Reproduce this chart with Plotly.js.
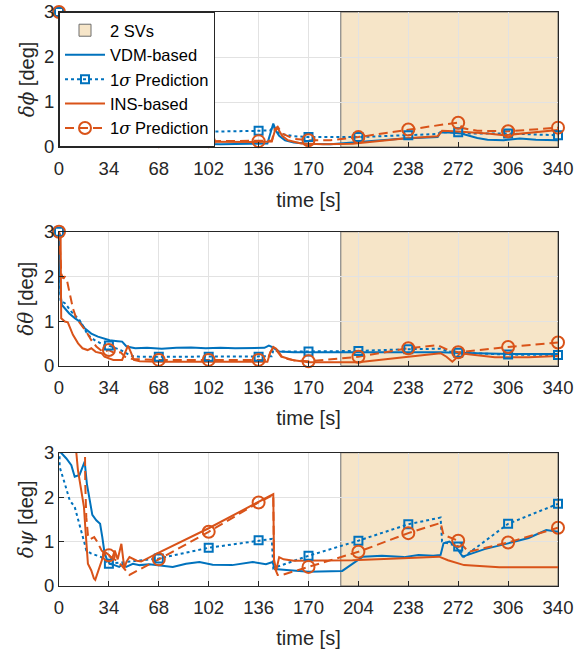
<!DOCTYPE html>
<html><head><meta charset="utf-8">
<script src="https://cdn.plot.ly/plotly-3.0.1.min.js"></script>
<style>html,body{margin:0;padding:0;background:#fff}#chart{width:588px;height:649px}</style>
</head><body><div id="chart"></div>
<script>
// ---------- data ----------
const timeTicks = [0,34,68,102,136,170,204,238,272,306,340];
const markerStep = 34;
const svStart = 192, svEnd = 340;   // 2-SV interval [s]
const yMax = 3;

// Panel 1: roll error
const rollVdmT = [0,0.5,1,3,5,7.5,10,12.5,15,18,20,23,25,28,30,33,36,40,45,55,70,90,110,130,142,144,146,148,150,154,160,170,185,200,215,235,258,260,266,274,285,292,303,314,325,340];
const rollVdm  = [3,0.3,0.25,0.1,0.26,0.08,0.27,0.1,0.27,0.08,0.25,0.1,0.25,0.1,0.22,0.12,0.18,0.1,0.08,0.07,0.06,0.07,0.06,0.07,0.08,0.3,0.52,0.35,0.25,0.15,0.1,0.07,0.06,0.1,0.14,0.19,0.22,0.33,0.32,0.3,0.2,0.16,0.15,0.19,0.16,0.15];
const rollVdmPredT = [0,1,10,20,34,68,102,136,144,146,150,160,170,204,238,258,260,272,280,306,340];
const rollVdmPred  = [3,0.45,0.4,0.37,0.35,0.34,0.34,0.36,0.37,0.45,0.3,0.24,0.22,0.22,0.26,0.29,0.33,0.33,0.3,0.3,0.26];
const rollInsT = [0,0.5,5,10,15,20,25,27,29,31,33,35,38,41,44,47,50,55,68,102,136,145,147,149,152,156,165,180,200,215,235,258,261,269,280,292,303,315,340];
const rollIns  = [3,0.4,0.35,0.3,0.28,0.25,0.2,0.1,0.25,0.1,0.22,0.08,0.25,0.1,0.22,0.1,0.18,0.12,0.12,0.11,0.11,0.12,0.35,0.42,0.25,0.15,0.08,0.06,0.07,0.12,0.19,0.24,0.36,0.35,0.33,0.3,0.26,0.3,0.38];
const rollInsPredT = [0,1,20,34,40,50,68,102,136,145,147,149,152,160,170,185,204,238,262,272,275,285,306,320,340];
const rollInsPred  = [3,0.5,0.3,0.22,0.2,0.15,0.13,0.13,0.13,0.14,0.4,0.45,0.3,0.18,0.15,0.15,0.22,0.39,0.5,0.54,0.42,0.36,0.35,0.38,0.43];

// Panel 2: pitch error
const pitchVdmT = [0,1,2,4,7,11,14,17.5,22,26.5,31,34.5,40,43,46,52,60,70,80,90,100,110,120,130,140,143,145,150,160,180,200,220,240,260,270,290,310,340];
const pitchVdm  = [3,1.6,1.36,1.28,1.17,1.06,0.99,0.84,0.72,0.65,0.61,0.57,0.55,0.54,0.43,0.39,0.4,0.38,0.4,0.41,0.39,0.4,0.39,0.4,0.4,0.45,0.42,0.32,0.3,0.3,0.3,0.3,0.31,0.3,0.29,0.27,0.26,0.26];
const pitchVdmPredT = [0,1,4,8.4,14,19.7,24.3,31,34,42,49,55,68,102,136,145,146,150,170,204,238,260,265,272,306,340];
const pitchVdmPred  = [3,1.45,1.4,1.21,1.02,0.69,0.57,0.46,0.45,0.35,0.22,0.2,0.2,0.2,0.2,0.21,0.35,0.32,0.32,0.33,0.37,0.38,0.32,0.29,0.25,0.24];
const pitchInsT = [0,1.1,1.5,4,6,7.5,9.5,13,16,19.5,22,25,29,31,34,37,43,45,47,49,51,55,68,102,136,142,144,146,148,152,160,170,204,220,238,260,264,268,271,273,280,297,320,340];
const pitchIns  = [3,2.9,1.06,0.99,0.97,0.84,0.69,0.5,0.39,0.35,0.39,0.31,0.28,0.2,0.16,0.13,0.13,0.3,0.45,0.3,0.13,0.1,0.09,0.09,0.09,0.09,0.3,0.42,0.38,0.2,0.12,0.08,0.08,0.13,0.2,0.28,0.2,0.09,0.18,0.28,0.25,0.19,0.19,0.22];
const pitchInsPredT = [0,1,1.6,3,4,5.5,7.3,9.5,11.8,15,18.6,22,25.4,30,34,38,42,45,50,68,102,136,142,144,146,148,152,160,170,204,238,258,262,266,272,306,340];
const pitchInsPred  = [3,2.5,2.05,1.95,2.0,1.9,1.58,1.28,1.06,0.91,0.76,0.57,0.43,0.31,0.35,0.28,0.3,0.2,0.15,0.13,0.13,0.13,0.13,0.3,0.4,0.35,0.18,0.12,0.1,0.2,0.39,0.46,0.4,0.34,0.3,0.42,0.52];

// Panel 3: yaw error
const yawVdmT = [0,5,8.4,10.7,14,17.5,19,21,22.7,25.4,28,29.5,31,32.6,34.5,37.8,41,43.5,45.8,50.3,55,61.6,68,77.5,86.6,95.7,104.7,118,132,141,145.5,147,155,170,193,200,207,220,235,245,255,260,262,266,270,275,290,306,320,332,340];
const yawVdm  = [3.05,2.87,2.72,2.46,2.5,2.8,2.3,1.9,1.6,1.48,1.4,1.1,0.75,0.6,0.5,0.47,0.43,0.5,0.43,0.5,0.47,0.49,0.47,0.43,0.5,0.54,0.48,0.47,0.54,0.49,0.54,0.38,0.36,0.32,0.34,0.5,0.66,0.68,0.65,0.7,0.68,0.7,0.96,1.0,0.9,0.66,0.83,0.96,1.08,1.26,1.22];
const yawVdmPredT = [0,0.45,3.9,7.3,10.7,14,15.6,17.5,18.6,22,28.8,34,68,102,136,145,146,150,170,204,238,260,261,272,276,306,340];
const yawVdmPred  = [4,2.68,2.31,1.93,1.78,1.33,1.18,0.95,0.8,0.73,0.65,0.5,0.62,0.86,1.03,1.06,0.4,0.45,0.68,1.02,1.39,1.54,1.0,0.89,0.66,1.4,1.85];
const yawInsT = [0,11.8,12.9,15.2,17,17.9,18.6,19.7,22,23.8,24.7,26.5,27.7,29.9,32,34,36,38,40,42.5,44.5,46,48,50,53,56,60,68,102,136,146,146.5,148,150,153,160,200,230,259,265,272,276,300,340];
const yawIns  = [4,3.0,2.61,2.16,1.78,1.33,0.88,0.5,0.35,0.17,0.14,0.3,0.43,0.65,0.75,0.7,0.6,0.8,0.6,0.95,0.4,0.55,0.65,0.62,0.57,0.55,0.62,0.75,1.3,1.9,2.07,0.6,0.35,0.65,0.6,0.57,0.58,0.62,0.66,0.58,0.5,0.47,0.42,0.42];
const yawInsPredT = [0,17.7,17.9,18.6,19.7,21,24,26,29,31.5,34,37,40,43,46,48,68,102,136,146,146.5,149,152,170,204,238,260,262,272,279,306,340];
const yawInsPred  = [4,3.05,2.3,1.55,1.15,1.05,1.1,1.0,0.8,0.72,0.69,0.62,0.55,0.45,0.32,0.25,0.6,1.22,1.88,2.05,0.45,0.25,0.25,0.43,0.77,1.19,1.42,1.15,1.02,0.77,0.98,1.31];

// ---------- style ----------
const C_VDM = '#0072BD', C_INS = '#D95319', C_AX = '#262626';
const C_SV = '#f6e5c8';
const FONT = 'Liberation Sans, Arial, Helvetica, sans-serif';
const GREEK = s => '<span style="font-family:DejaVu Serif, serif;font-style:italic">' + s + '</span>';
const LW = 2;
const vdmLine  = {color:C_VDM, width:LW};
const vdmPLine = {color:C_VDM, width:LW, dash:'3px,3px'};
const insLine  = {color:C_INS, width:LW};
const insPLine = {color:C_INS, width:LW, dash:'9px,5px'};
const sqMarker = {symbol:'square-open', size:8, color:C_VDM, line:{width:2, color:C_VDM}};
const ciMarker = {symbol:'circle-open', size:12, color:C_INS, line:{width:2, color:C_INS}};

const panels = [
  {ax:['x','y'],   vdm:[rollVdmT,rollVdm],   vdmP:[rollVdmPredT,rollVdmPred],   ins:[rollInsT,rollIns],   insP:[rollInsPredT,rollInsPred]},
  {ax:['x2','y2'], vdm:[pitchVdmT,pitchVdm], vdmP:[pitchVdmPredT,pitchVdmPred], ins:[pitchInsT,pitchIns], insP:[pitchInsPredT,pitchInsPred]},
  {ax:['x3','y3'], vdm:[yawVdmT,yawVdm],     vdmP:[yawVdmPredT,yawVdmPred],     ins:[yawInsT,yawIns],     insP:[yawInsPredT,yawInsPred]}
];

function markPts(t, y) {
  const mx = [], my = [];
  t.forEach((v, i) => { if (v % markerStep === 0 && y[i] <= yMax) { mx.push(v); my.push(y[i]); } });
  return [mx, my];
}

const traces = [];
// legend entries
const legItem = (name, mode, line, marker) => {
  const t = {x:[null], y:[null], xaxis:'x', yaxis:'y', mode, line, name, showlegend:true, hoverinfo:'skip'};
  if (marker) t.marker = marker;
  return t;
};
traces.push(legItem('VDM-based', 'lines', vdmLine));
traces.push(legItem('1' + GREEK('σ') + ' Prediction', 'lines+markers', vdmPLine, sqMarker));
traces.push(legItem('INS-based', 'lines', insLine));
traces.push(legItem('1' + GREEK('σ') + ' Prediction', 'lines+markers', insPLine, ciMarker));

panels.forEach((p) => {
  const base = {xaxis:p.ax[0], yaxis:p.ax[1], showlegend:false, hoverinfo:'skip'};
  traces.push(Object.assign({x:p.vdm[0], y:p.vdm[1], mode:'lines', line:vdmLine}, base));
  traces.push(Object.assign({x:p.vdmP[0], y:p.vdmP[1], mode:'lines', line:vdmPLine}, base));
  traces.push(Object.assign({x:p.ins[0], y:p.ins[1], mode:'lines', line:insLine}, base));
  traces.push(Object.assign({x:p.insP[0], y:p.insP[1], mode:'lines', line:insPLine}, base));
  const sm = markPts(p.vdmP[0], p.vdmP[1]);
  traces.push(Object.assign({x:sm[0], y:sm[1], mode:'markers', marker:sqMarker, cliponaxis:false}, base));
  const cm = markPts(p.insP[0], p.insP[1]);
  traces.push(Object.assign({x:cm[0], y:cm[1], mode:'markers', marker:ciMarker, cliponaxis:false}, base));
});

// 2-SV period as shaded rectangles (below grid, like MATLAB patches)
const shapes = panels.map((p, k) => ({
  type:'rect', xref:p.ax[0], yref:p.ax[1], x0:svStart, x1:svEnd, y0:0, y1:yMax,
  fillcolor:C_SV, line:{color:'#6e6e6e', width:1}, layer:'below',
  showlegend:k === 0, name:'2 SVs', legendrank:1
}));

const xAxis = (anchor) => ({
  anchor, range:[0, 340], tickvals:timeTicks, ticktext:timeTicks.map(String),
  showgrid:true, gridcolor:'#e2e2e2', gridwidth:1, zeroline:false,
  showline:true, mirror:true, linecolor:C_AX, linewidth:1,
  ticks:'inside', ticklen:5, tickcolor:C_AX, tickfont:{size:18.5, color:C_AX, family:FONT},
  ticklabelstandoff:5,
  title:{text:'time [s]', font:{size:20, color:C_AX, family:FONT}, standoff:14}
});
const yAxis = (anchor, domain, label) => ({
  anchor, domain, range:[0, yMax], tickvals:[0,1,2,3],
  showgrid:true, gridcolor:'#e2e2e2', gridwidth:1, zeroline:false,
  showline:true, mirror:true, linecolor:C_AX, linewidth:1,
  ticks:'inside', ticklen:5, tickcolor:C_AX, tickfont:{size:18.5, color:C_AX, family:FONT},
  title:{text:label, font:{size:20, color:C_AX, family:FONT}, standoff:4}
});

const layout = {
  width:588, height:649, paper_bgcolor:'#fff', plot_bgcolor:'rgba(0,0,0,0)',
  margin:{l:59, r:30, t:12, b:63},
  font:{family:FONT, color:C_AX},
  xaxis:xAxis('y'), xaxis2:xAxis('y2'), xaxis3:xAxis('y3'),
  yaxis:yAxis('x', [0.7648, 1.0], GREEK('δϕ') + ' [deg]'),
  yaxis2:yAxis('x2', [0.3838, 0.6172], GREEK('δθ') + ' [deg]'),
  yaxis3:yAxis('x3', [0.0, 0.2322], GREEK('δψ') + ' [deg]'),
  shapes,
  showlegend:true,
  legend:{x:0, y:1, xanchor:'left', yanchor:'top', bgcolor:'#fff', bordercolor:C_AX, borderwidth:1,
          font:{size:16.5, color:'#000', family:FONT}, itemwidth:40, tracegroupgap:0}
};

Plotly.newPlot('chart', traces, layout, {staticPlot:true, displayModeBar:false});
</script></body></html>
